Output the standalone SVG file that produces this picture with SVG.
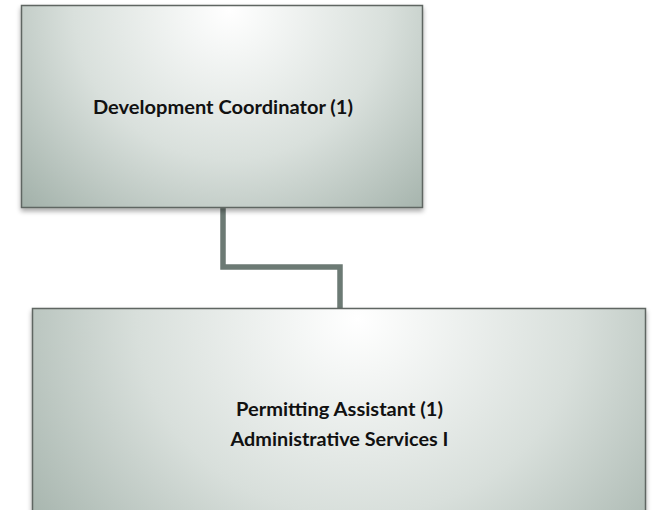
<svg xmlns="http://www.w3.org/2000/svg" width="652" height="510" viewBox="0 0 652 510">
  <defs>
    <radialGradient id="g1" gradientUnits="objectBoundingBox" cx="0.52" cy="0.02" r="0.78" fx="0.52" fy="0.02" gradientTransform="translate(0.52 0.02) scale(1 1.9) translate(-0.52 -0.02)">
      <stop offset="0" stop-color="#ffffff"/>
      <stop offset="0.5" stop-color="#d9e0dc"/>
      <stop offset="1" stop-color="#9aaaa2"/>
    </radialGradient>
    <radialGradient id="g2" gradientUnits="objectBoundingBox" cx="0.53" cy="0.05" r="0.72" fx="0.53" fy="0.05" gradientTransform="translate(0.53 0.05) scale(1 2.6) translate(-0.53 -0.05)">
      <stop offset="0" stop-color="#ffffff"/>
      <stop offset="0.5" stop-color="#d8dfdb"/>
      <stop offset="1" stop-color="#9aaaa2"/>
    </radialGradient>
    <filter id="sh" x="-5%" y="-5%" width="110%" height="115%">
      <feGaussianBlur in="SourceAlpha" stdDeviation="2.5"/>
      <feOffset dx="0" dy="3" result="b"/>
      <feComponentTransfer><feFuncA type="linear" slope="0.35"/></feComponentTransfer>
      <feMerge><feMergeNode/><feMergeNode in="SourceGraphic"/></feMerge>
    </filter>
  </defs>
  <style>
    .box { stroke: #5f6662; stroke-width: 1.5; }
    .lbl { font-family: Lato, "Liberation Sans", sans-serif; font-weight: bold; font-size: 18px; fill: #111111; text-anchor: middle; }
    .conn { fill: none; stroke: #6c7a74; stroke-width: 5.5; stroke-linejoin: miter; }
  </style>
  <g id="connectors">
    <path class="conn" d="M223,207 V267 H340 V309"/>
  </g>
  <g id="node-development-coordinator">
    <rect class="box" x="21.5" y="5.5" width="401" height="202" fill="url(#g1)" filter="url(#sh)"/>
    <text class="lbl" x="223" y="114" textLength="260" lengthAdjust="spacingAndGlyphs">Development Coordinator (1)</text>
  </g>
  <g id="node-permitting-assistant">
    <rect class="box" x="32.5" y="308.5" width="613" height="210" fill="url(#g2)" filter="url(#sh)"/>
    <text class="lbl" x="339.5" y="416" textLength="207" lengthAdjust="spacingAndGlyphs">Permitting Assistant (1)</text>
    <text class="lbl" x="339.5" y="446" textLength="218" lengthAdjust="spacingAndGlyphs">Administrative Services I</text>
  </g>
</svg>
